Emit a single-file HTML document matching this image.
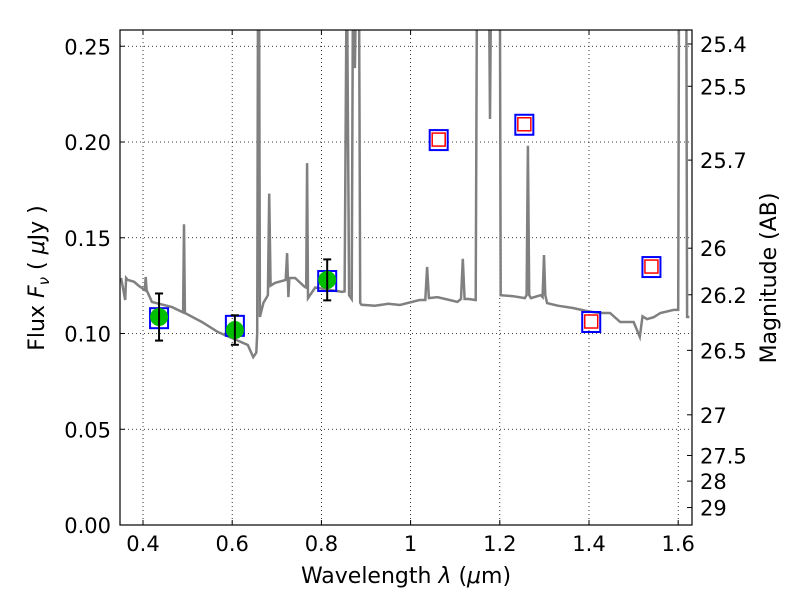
<!DOCTYPE html>
<html><head><meta charset="utf-8"><style>
body{margin:0;background:#fff;font-family:"DejaVu Sans","Liberation Sans",sans-serif}
svg text{font-family:"DejaVu Sans","Liberation Sans",sans-serif}
</style></head><body>
<svg id="c" width="800" height="600" xmlns="http://www.w3.org/2000/svg"></svg>
<script>
const specLam=[0.351,0.36,0.362,0.366,0.38,0.39,0.404,0.406,0.408,0.42,0.465,0.49,0.492,0.494,0.532,0.568,0.635,0.647,0.654,0.656,0.658,0.660,0.662,0.67,0.68,0.683,0.686,0.696,0.72,0.723,0.726,0.728,0.741,0.763,0.766,0.768,0.770,0.786,0.846,0.852,0.857,0.862,0.868,0.871,0.875,0.879,0.881,0.884,0.887,0.89,0.92,0.95,0.976,1.02,1.033,1.037,1.041,1.06,1.105,1.113,1.117,1.121,1.13,1.146,1.149,1.175,1.178,1.181,1.196,1.199,1.20,1.202,1.23,1.256,1.260,1.263,1.266,1.270,1.292,1.296,1.299,1.302,1.306,1.33,1.364,1.40,1.425,1.447,1.47,1.50,1.514,1.52,1.53,1.545,1.56,1.59,1.60,1.602,1.605,1.618,1.620,1.625];
const specFlux=[0.129,0.1175,0.129,0.128,0.127,0.125,0.1227,0.1295,0.1227,0.1165,0.1138,0.111,0.157,0.1107,0.106,0.1008,0.094,0.0877,0.090,0.10,0.30,0.30,0.1086,0.116,0.12,0.173,0.125,0.1264,0.128,0.142,0.119,0.129,0.129,0.1243,0.124,0.189,0.1185,0.124,0.1217,0.122,0.30,0.12,0.118,0.30,0.2386,0.30,0.30,0.30,0.116,0.115,0.1145,0.1155,0.1149,0.1175,0.1175,0.1347,0.1185,0.119,0.1165,0.118,0.139,0.118,0.118,0.1175,0.30,0.30,0.212,0.30,0.30,0.30,0.30,0.120,0.1195,0.1185,0.12,0.198,0.12,0.1185,0.12,0.119,0.141,0.12,0.1159,0.1145,0.1133,0.1115,0.1107,0.1107,0.106,0.106,0.0982,0.109,0.1075,0.1085,0.1107,0.1123,0.1123,0.30,0.30,0.30,0.1086,0.1086];
const obsLam=[0.436,0.606,0.813];
const obsFlux=[0.1086,0.1018,0.128];
const obsErr=[0.0123,0.0077,0.0107];
const modLam=[0.436,0.606,0.813,1.063,1.255,1.405,1.540];
const modFlux=[0.108,0.104,0.1274,0.201,0.209,0.106,0.1347];
const redLam=[1.063,1.255,1.405,1.540];
const redFlux=[0.201,0.209,0.106,0.1347];
const xTicks=[0.4,0.6,0.8,1,1.2,1.4,1.6];
const xLabels=["0.4","0.6","0.8","1","1.2","1.4","1.6"];
const yTicks=[0,0.05,0.1,0.15,0.2,0.25];
const yLabels=["0.00","0.05","0.10","0.15","0.20","0.25"];
const magTicks=[25.4,25.5,25.7,26,26.2,26.5,27,27.5,28,29];

const L=120,R=692,T=30,B=525;
const X=v=>143+(v-0.4)*446;
const Y=v=>525-v*1915;
const svg=document.getElementById('c');
const NS='http://www.w3.org/2000/svg';
function mk(tag,attrs,parent){const e=document.createElementNS(NS,tag);for(const k in attrs)e.setAttribute(k,attrs[k]);(parent||svg).appendChild(e);return e;}
const defs=mk('defs',{});const cp=mk('clipPath',{id:'clip'},defs);mk('rect',{x:L,y:T,width:R-L,height:B-T},cp);

xTicks.forEach((v,i)=>{
 const g=mk('line',{x1:X(v),x2:X(v),y1:T,y2:B,stroke:'#000','stroke-width':0.8,'stroke-dasharray':'1,3'});
 
 
 mk('line',{x1:X(v),x2:X(v),y1:B,y2:B-5,stroke:'#000'});
 mk('line',{x1:X(v),x2:X(v),y1:T,y2:T+5,stroke:'#000'});
 const t=mk('text',{x:X(v),y:B+26,'text-anchor':'middle','font-size':21});t.textContent=xLabels[i];
 
 
});
yTicks.forEach((v,i)=>{
 const g=mk('line',{x1:L,x2:R,y1:Y(v),y2:Y(v),stroke:'#000','stroke-width':0.8,'stroke-dasharray':'1,3'});
 
 
 mk('line',{x1:L,x2:L+5,y1:Y(v),y2:Y(v),stroke:'#000'});
 const t=mk('text',{x:L-9,y:Y(v)+8,'text-anchor':'end','font-size':21});t.textContent=yLabels[i];
 
 
});
magTicks.forEach(m=>{
 const f=Math.pow(10,(23.9-m)/2.5);const y=Y(f);
 mk('line',{x1:R,x2:R-5,y1:y,y2:y,stroke:'#000'});
 const t=mk('text',{x:R+8,y:y+8,'font-size':21});t.textContent=String(m);
 
 
});

const pts=specLam.map((l,i)=>X(l).toFixed(1)+','+Y(specFlux[i]).toFixed(1)).join(' ');
const sp=mk('polyline',{points:pts,fill:'none',stroke:'#808080','stroke-width':2.5,'clip-path':'url(#clip)'});



modLam.forEach((l,i)=>{
 const r=mk('rect',{x:X(l)-9,y:Y(modFlux[i])-10,width:18,height:20,fill:'none',stroke:'#0000ff','stroke-width':2});
 
 
});
redLam.forEach((l,i)=>{
 const r=mk('rect',{x:X(l)-6.5,y:Y(redFlux[i])-7,width:13,height:13,fill:'#fff',stroke:'#ff0000','stroke-width':1.5});
 
 
});
obsLam.forEach((l,i)=>{
 const x=X(l),y1=Y(obsFlux[i]+obsErr[i]),y2=Y(obsFlux[i]-obsErr[i]);
 const c=mk('circle',{cx:x,cy:Y(obsFlux[i]),r:9,fill:'#00bf00'});
 
 
 const e=mk('g',{stroke:'#000','stroke-width':2});
 
 
 mk('line',{x1:x,x2:x,y1:y1,y2:y2},e);
 mk('line',{x1:x-4,x2:x+4,y1:y1,y2:y1},e);
 mk('line',{x1:x-4,x2:x+4,y1:y2,y2:y2},e);
});
const fr=mk('rect',{x:L,y:T,width:R-L,height:B-T,fill:'none',stroke:'#000','stroke-width':1.2});



let t=mk('text',{x:406,y:583,'text-anchor':'middle','font-size':22,'xml:space':'preserve'});
t.innerHTML='Wavelength  <tspan font-style="italic">λ</tspan> (<tspan font-style="italic">μ</tspan>m)';


t=mk('text',{x:0,y:0,'text-anchor':'middle','font-size':22,transform:'translate(44,278) rotate(-90)','xml:space':'preserve'});
t.innerHTML='Flux  <tspan font-style="italic">F</tspan><tspan font-style="italic" font-size="15" dy="5">ν</tspan><tspan dy="-5">  ( </tspan><tspan font-style="italic">μ</tspan>Jy )';


t=mk('text',{x:0,y:0,'text-anchor':'middle','font-size':22,transform:'translate(776,278) rotate(-90)'});
t.textContent='Magnitude (AB)';


</script>
</body></html>
